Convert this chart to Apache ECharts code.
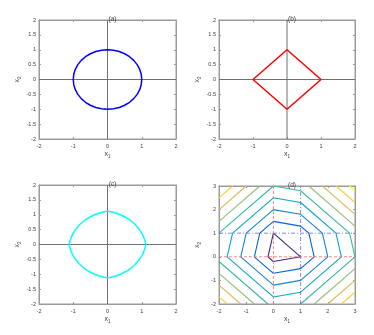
<!DOCTYPE html>
<html>
<head>
<meta charset="utf-8">
<script src="https://cdn.jsdelivr.net/npm/echarts@6/dist/echarts.min.js"></script>
<style>html,body{margin:0;padding:0;background:#fff}#c{width:374px;height:335px}</style>
</head>
<body>
<div id="c"></div>
<script>
// ---- data ----
var titles = ['(a)', '(b)', '(c)', '(d)'];
var ticksABC_x = [-2, -1, 0, 1, 2];
var ticksABC_y = [-2, -1.5, -1, -0.5, 0, 0.5, 1, 1.5, 2];
var ticksD = [-2, -1, 0, 1, 2, 3];

// (a) unit L2 ball
var circle = [[1,0],[0.985,0.174],[0.940,0.342],[0.866,0.5],[0.766,0.643],[0.643,0.766],[0.5,0.866],[0.342,0.940],[0.174,0.985],[0,1],
[-0.174,0.985],[-0.342,0.940],[-0.5,0.866],[-0.643,0.766],[-0.766,0.643],[-0.866,0.5],[-0.940,0.342],[-0.985,0.174],[-1,0],
[-0.985,-0.174],[-0.940,-0.342],[-0.866,-0.5],[-0.766,-0.643],[-0.643,-0.766],[-0.5,-0.866],[-0.342,-0.940],[-0.174,-0.985],[0,-1],
[0.174,-0.985],[0.342,-0.940],[0.5,-0.866],[0.643,-0.766],[0.766,-0.643],[0.866,-0.5],[0.940,-0.342],[0.985,-0.174],[1,0]];
// (b) unit L1 ball
var diamond = [[1,0],[0,1],[-1,0],[0,-1],[1,0]];
// (c) elastic-net ball
var enet = [[1.12,0],[1.10,0.10],[1.06,0.24],[1.00,0.38],[0.90,0.55],[0.80,0.68],[0.74,0.74],[0.68,0.80],[0.55,0.90],[0.38,1.00],[0.24,1.06],[0.10,1.10],[0,1.12],
[-0.10,1.10],[-0.24,1.06],[-0.38,1.00],[-0.55,0.90],[-0.68,0.80],[-0.74,0.74],[-0.80,0.68],[-0.90,0.55],[-1.00,0.38],[-1.06,0.24],[-1.10,0.10],[-1.12,0],
[-1.10,-0.10],[-1.06,-0.24],[-1.00,-0.38],[-0.90,-0.55],[-0.80,-0.68],[-0.74,-0.74],[-0.68,-0.80],[-0.55,-0.90],[-0.38,-1.00],[-0.24,-1.06],[-0.10,-1.10],[0,-1.12],
[0.10,-1.10],[0.24,-1.06],[0.38,-1.00],[0.55,-0.90],[0.68,-0.80],[0.74,-0.74],[0.80,-0.68],[0.90,-0.55],[1.00,-0.38],[1.06,-0.24],[1.10,-0.10],[1.12,0]];
// (d) contour levels (pieces per level)
var contourColors = ['#352a87','#0363e1','#1485d4','#06a7c6','#38b99e','#92bf73','#d9ba56','#fcce2e','#f9fb0e'];
var level1 = [[[0,1],[1,0],[0,-0.2],[-0.2,0],[0,1]]];
var level2 = [[[0,1.5],[1,1.3],[1.3,1],[1.5,0],[1,-0.5],[0,-0.7],[-0.7,0],[-0.5,1],[0,1.5]]];
var level3 = [[[0,2],[1,1.8],[1.8,1],[2,0],[1,-1],[0,-1.2],[-1.2,0],[-1,1],[0,2]]];
var level4 = [[[0,2.5],[1,2.3],[2.3,1],[2.5,0],[1,-1.5],[0,-1.7],[-1.7,0],[-1.5,1],[0,2.5]]];
var level5 = [[[-2,1],[0,3],[1,2.8],[2.8,1],[3,0],[1,-2]], [[-2,-0.2],[-0.2,-2]]];
var level6 = [[[-2,1.5],[-0.5,3]], [[1.3,3],[3,1.3]], [[1.5,-2],[3,-0.5]], [[-2,-0.7],[-0.7,-2]]];
var level7 = [[[-2,2],[-1,3]], [[1.8,3],[3,1.8]], [[2,-2],[3,-1]], [[-2,-1.2],[-1.2,-2]]];
var level8 = [[[-2,2.5],[-1.5,3]], [[2.3,3],[3,2.3]], [[2.5,-2],[3,-1.5]], [[-2,-1.7],[-1.7,-2]]];
var level9 = [[[2.8,3],[3,2.8]]];
var levels = [level1, level2, level3, level4, level5, level6, level7, level8, level9];
// reference lines
var zeroV = [[0,-2],[0,2]], zeroH = [[-2,0],[2,0]];
var redV = [[0,-2],[0,3]], redH = [[-2,0],[3,0]];
var blueV = [[1,-2],[1,3]], blueH = [[-2,1],[3,1]];

// ---- chart ----
var FONT = 'Liberation Sans, Arial, sans-serif';
var BOX = '#9a9a9a', TXT = '#404040';
var grids = [
  {left:39, top:20, width:137, height:119},
  {left:219, top:20, width:136, height:119},
  {left:39, top:185, width:137, height:119},
  {left:219, top:186, width:136, height:118}
];
grids.forEach(function(g){ g.show = true; g.borderColor = BOX; g.borderWidth = 1; g.backgroundColor = '#fff'; });

function axis(gi, pos, min, max, interval, showLabel, isX, nameTxt) {
  var a = {
    type: 'value', gridIndex: gi, position: pos, min: min, max: max, interval: interval,
    axisLine: {show: true, onZero: false, lineStyle: {color: BOX, width: 1}},
    axisTick: {show: true, inside: true, length: 2, lineStyle: {color: BOX}},
    splitLine: {show: false},
    axisLabel: {show: showLabel, fontSize: 5.5, color: TXT, fontFamily: FONT, margin: isX ? 4 : 3}
  };
  if (nameTxt) {
    a.name = '{b|x}{s|' + nameTxt + '}';
    a.nameLocation = 'middle';
    a.nameGap = isX ? 11 : 17;
    a.nameRotate = isX ? 0 : 90;
    a.nameTextStyle = {color: TXT, fontFamily: FONT,
      rich: {b: {fontSize: 7, fontFamily: FONT, color: TXT}, s: {fontSize: 4.5, fontFamily: FONT, color: TXT, padding: [4,0,0,0]}}};
  }
  return a;
}
var xAxes = [], yAxes = [];
for (var i = 0; i < 4; i++) {
  var d = (i === 3);
  var xmin = -2, xmax = d ? 3 : 2, ymax = d ? 3 : 2;
  xAxes.push(axis(i, 'bottom', xmin, xmax, 1, true, true, '1'));
  yAxes.push(axis(i, 'left', -2, ymax, d ? 1 : 0.5, true, false, '2'));
}
for (var i = 0; i < 4; i++) {
  var d = (i === 3);
  xAxes.push(axis(i, 'top', -2, d ? 3 : 2, 1, false, true, null));
  yAxes.push(axis(i, 'right', -2, d ? 3 : 2, d ? 1 : 0.5, false, false, null));
}

var titleArr = titles.map(function(t, i){
  var g = grids[i];
  return {text: t, left: g.left + g.width/2, top: g.top - 9, textAlign: 'center',
    textStyle: {fontSize: 6.5, fontWeight: 'normal', color: TXT, fontFamily: FONT}};
});

function lineS(gi, data, color, width, type, z) {
  return {type: 'line', xAxisIndex: gi, yAxisIndex: gi, data: data, showSymbol: false, symbol: 'none',
    animation: false, silent: true, z: z || 2,
    lineStyle: {color: color, width: width, type: type || 'solid'}};
}
var series = [];
for (var i = 0; i < 3; i++) {
  series.push(lineS(i, zeroV, '#707070', 1, 'solid', 1));
  series.push(lineS(i, zeroH, '#707070', 1, 'solid', 1));
}
series.push(lineS(0, circle, '#0000ff', 1.5, 'solid', 3));
series.push(lineS(1, diamond, '#ff0000', 1.5, 'solid', 3));
series.push(lineS(2, enet, '#00ffff', 1.5, 'solid', 3));
levels.forEach(function(pieces, li){
  pieces.forEach(function(p){ series.push(lineS(3, p, contourColors[li], 1.1, 'solid', 2)); });
});
series.push(lineS(3, redV, '#ff6666', 0.8, [3,2], 4));
series.push(lineS(3, redH, '#ff6666', 0.8, [3,2], 4));
series.push(lineS(3, blueV, '#6666ff', 0.8, [4,2,1,2], 4));
series.push(lineS(3, blueH, '#6666ff', 0.8, [4,2,1,2], 4));

var chart = echarts.init(document.getElementById('c'), null, {renderer: 'canvas'});
chart.setOption({
  animation: false,
  backgroundColor: '#fff',
  title: titleArr,
  grid: grids,
  xAxis: xAxes,
  yAxis: yAxes,
  series: series
});
</script>
</body>
</html>
